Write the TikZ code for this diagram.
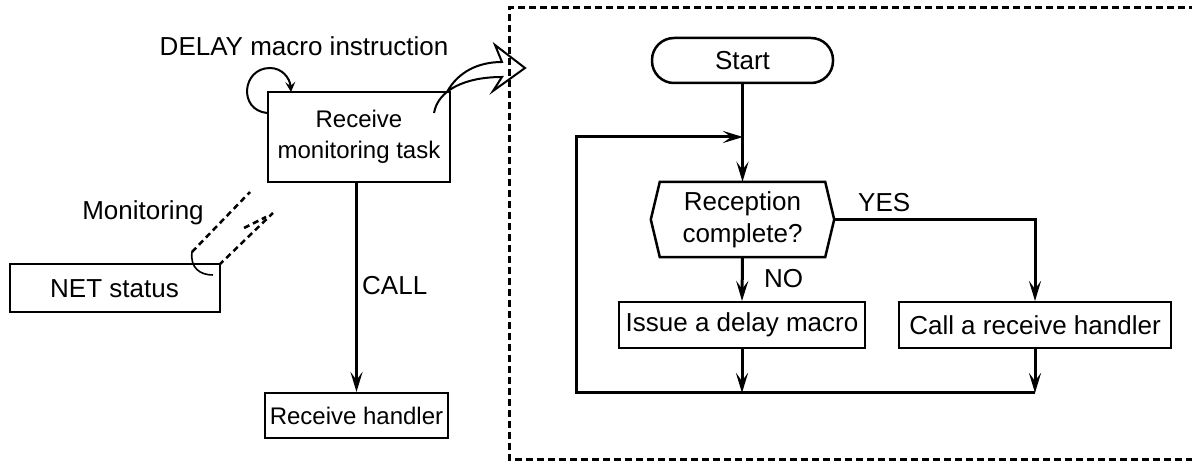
\documentclass[tikz,border=0pt]{standalone}
\usepackage{fontspec}
\setmainfont{Liberation Sans}
\usetikzlibrary{arrows.meta}
\begin{document}
\begin{tikzpicture}[x=1pt,y=-1pt,
  txt/.style={font=\fontsize{26}{31}\selectfont},
  sml/.style={font=\fontsize{24}{31}\selectfont},
  lbl/.style={font=\fontsize{26}{31}\selectfont, inner sep=0pt},
  leftbox/.style={draw, line width=2pt, inner sep=0pt, align=center},
  flowbox/.style={draw, line width=2pt, inner sep=0pt, align=center, font=\fontsize{26}{31}\selectfont},
  flow/.style={line width=3pt},
  tip/.style={-{Stealth[length=20pt,width=12pt,inset=8pt]}},
  smalltip/.style={-{Stealth[length=10pt,width=10pt,inset=4pt]}},
  dashline/.style={line width=2.5pt, dash pattern=on 6pt off 4pt},
]
\useasboundingbox (0,0) rectangle (1192,462);

% ---------- left part ----------
\node[lbl, anchor=base] (delay) at (304,56) {DELAY macro instruction};
\node[leftbox, sml, minimum width=182pt, minimum height=90pt] (task) at (359,137) {Receive\\monitoring task};
\node[leftbox, sml, minimum width=183pt, minimum height=45pt] (handler) at (356.5,415.5) {Receive handler};
\node[leftbox, txt, minimum width=210pt, minimum height=48pt] (net) at (114.5,288.5) {NET status};
\node[lbl, anchor=base] (mon) at (143,219.5) {Monitoring};
\node[lbl, anchor=base west] (call) at (362,294.5) {CALL};

% self loop (DELAY)
\coordinate (loopA) at (267,113);
\coordinate (loopB) at (291,92);
\draw[line width=2pt, smalltip] (loopA) .. controls (238,110) and (242,68) .. (270,68)
  .. controls (282,68) and (290,78) .. (loopB);

% CALL arrow
\draw[line width=3pt, tip] (task.south -| handler.north) -- (handler.north);

% monitoring (dashed hollow arrow)
\coordinate (m1) at (192,252);
\coordinate (m2) at (250,192);
\coordinate (m3) at (219,265);
\coordinate (m4) at (273,213);
\draw[dashline] (m1) -- (m2);
\draw[dashline] (m3) -- (m4);
\draw[dashline] (244,228) -- (266,217);
\draw[line width=1.6pt] (m1) .. controls (190,268) and (200,275) .. (213,275);

% hollow curved arrow to the flowchart
\draw[line width=2pt, line join=miter, fill=white]
  (434,113) .. controls (438,90) and (465,77) .. (502,77)
  -- (493,91) -- (525,68) -- (495,45) -- (502,62)
  .. controls (478,62) and (458,72) .. (447,92);

% dashed frame
\draw[line width=3pt, dash pattern=on 7pt off 4pt] (1196,8) -- (509,8) -- (509,459) -- (1196,459);

% ---------- flowchart ----------
\node[draw, line width=2.5pt, rounded corners=22pt, minimum width=181pt, minimum height=45pt, inner sep=0pt, txt] (start) at (742.5,60.5) {Start};
\node[minimum width=183pt, minimum height=75pt, inner sep=0pt, align=center, font=\fontsize{26}{32}\selectfont] (dec) at (742.5,219.5) {Reception\\complete?};
\draw[line width=2.5pt, line join=miter] (dec.west) -- ([xshift=9pt]dec.north west) -- ([xshift=-9pt]dec.north east)
  -- (dec.east) -- ([xshift=-9pt]dec.south east) -- ([xshift=9pt]dec.south west) -- cycle;
\node[flowbox, minimum width=246pt, minimum height=46pt] (issue) at (742,325) {Issue a delay macro};
\node[flowbox, minimum width=272pt, minimum height=46pt] (callh) at (1035,325) {Call a receive handler};
\node[lbl, anchor=base west] (yes) at (858,211.5) {YES};
\node[lbl, anchor=base west] (no) at (764,287.5) {NO};

\coordinate (jt) at (743,137);
\coordinate (bl) at (576,393);

\draw[flow, tip] (start.south) -- (dec.north);
\draw[flow, tip] (dec.south) -- (issue.north);
\draw[flow, tip] (dec.east) -| (callh.north);
\draw[flow, tip] (issue.south) -- (issue.south |- bl);
\draw[flow, tip] (callh.south) -- (callh.south |- bl);
\draw[flow, tip, line join=miter] (callh.south |- bl) -- (bl) -- (bl |- jt) -- (jt);
\end{tikzpicture}
\end{document}
